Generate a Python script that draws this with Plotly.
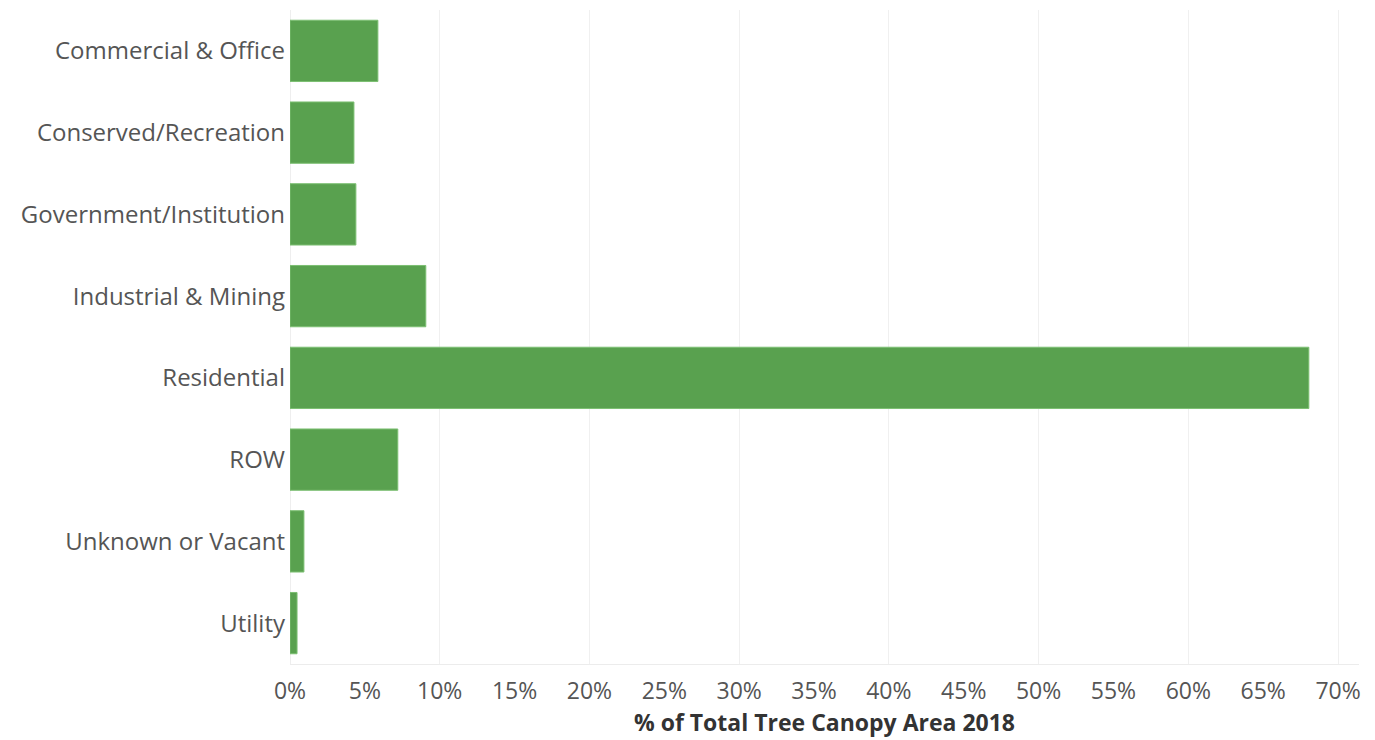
import plotly.graph_objects as go

categories = ["Commercial & Office", "Conserved/Recreation", "Government/Institution",
              "Industrial & Mining", "Residential", "ROW", "Unknown or Vacant", "Utility"]
values = [5.87, 4.27, 4.40, 9.07, 68.05, 7.20, 0.93, 0.47]
tick_vals = [0, 5, 10, 15, 20, 25, 30, 35, 40, 45, 50, 55, 60, 65, 70]
tick_text = [f"{v}%" for v in tick_vals]
grid_vals = [10, 20, 30, 40, 50, 60, 70]

fig = go.Figure(go.Bar(
    y=categories, x=values, orientation="h",
    marker=dict(color="#59A14F", line=dict(color="#7cbf72", width=1)),
    hoverinfo="skip",
))

fig.update_layout(
    width=1367, height=732,
    margin=dict(l=282, r=16, t=2, b=76),
    paper_bgcolor="white", plot_bgcolor="white",
    bargap=0.25,
    font=dict(family="Open Sans", color="#555555"),
    showlegend=False,
)
fig.update_xaxes(
    range=[0, 71.4],
    tickvals=tick_vals, ticktext=tick_text,
    tickfont=dict(size=23, color="#555555"),
    ticklabelstandoff=6,
    showgrid=False,
    zeroline=True, zerolinecolor="#eeeeee", zerolinewidth=1,
    showline=True, linecolor="#ececec", linewidth=1,
    minor=dict(tickvals=grid_vals, showgrid=True, gridcolor="#f0f0f0", gridwidth=1, ticks=""),
    title=dict(text="<b>% of Total Tree Canopy Area 2018</b>",
               font=dict(size=23, color="#333333"), standoff=9),
)
fig.update_yaxes(
    autorange="reversed",
    tickfont=dict(size=24, color="#555555"),
    ticklabelstandoff=4,
    showgrid=False, showline=False,
)

fig.write_html("out.html")
